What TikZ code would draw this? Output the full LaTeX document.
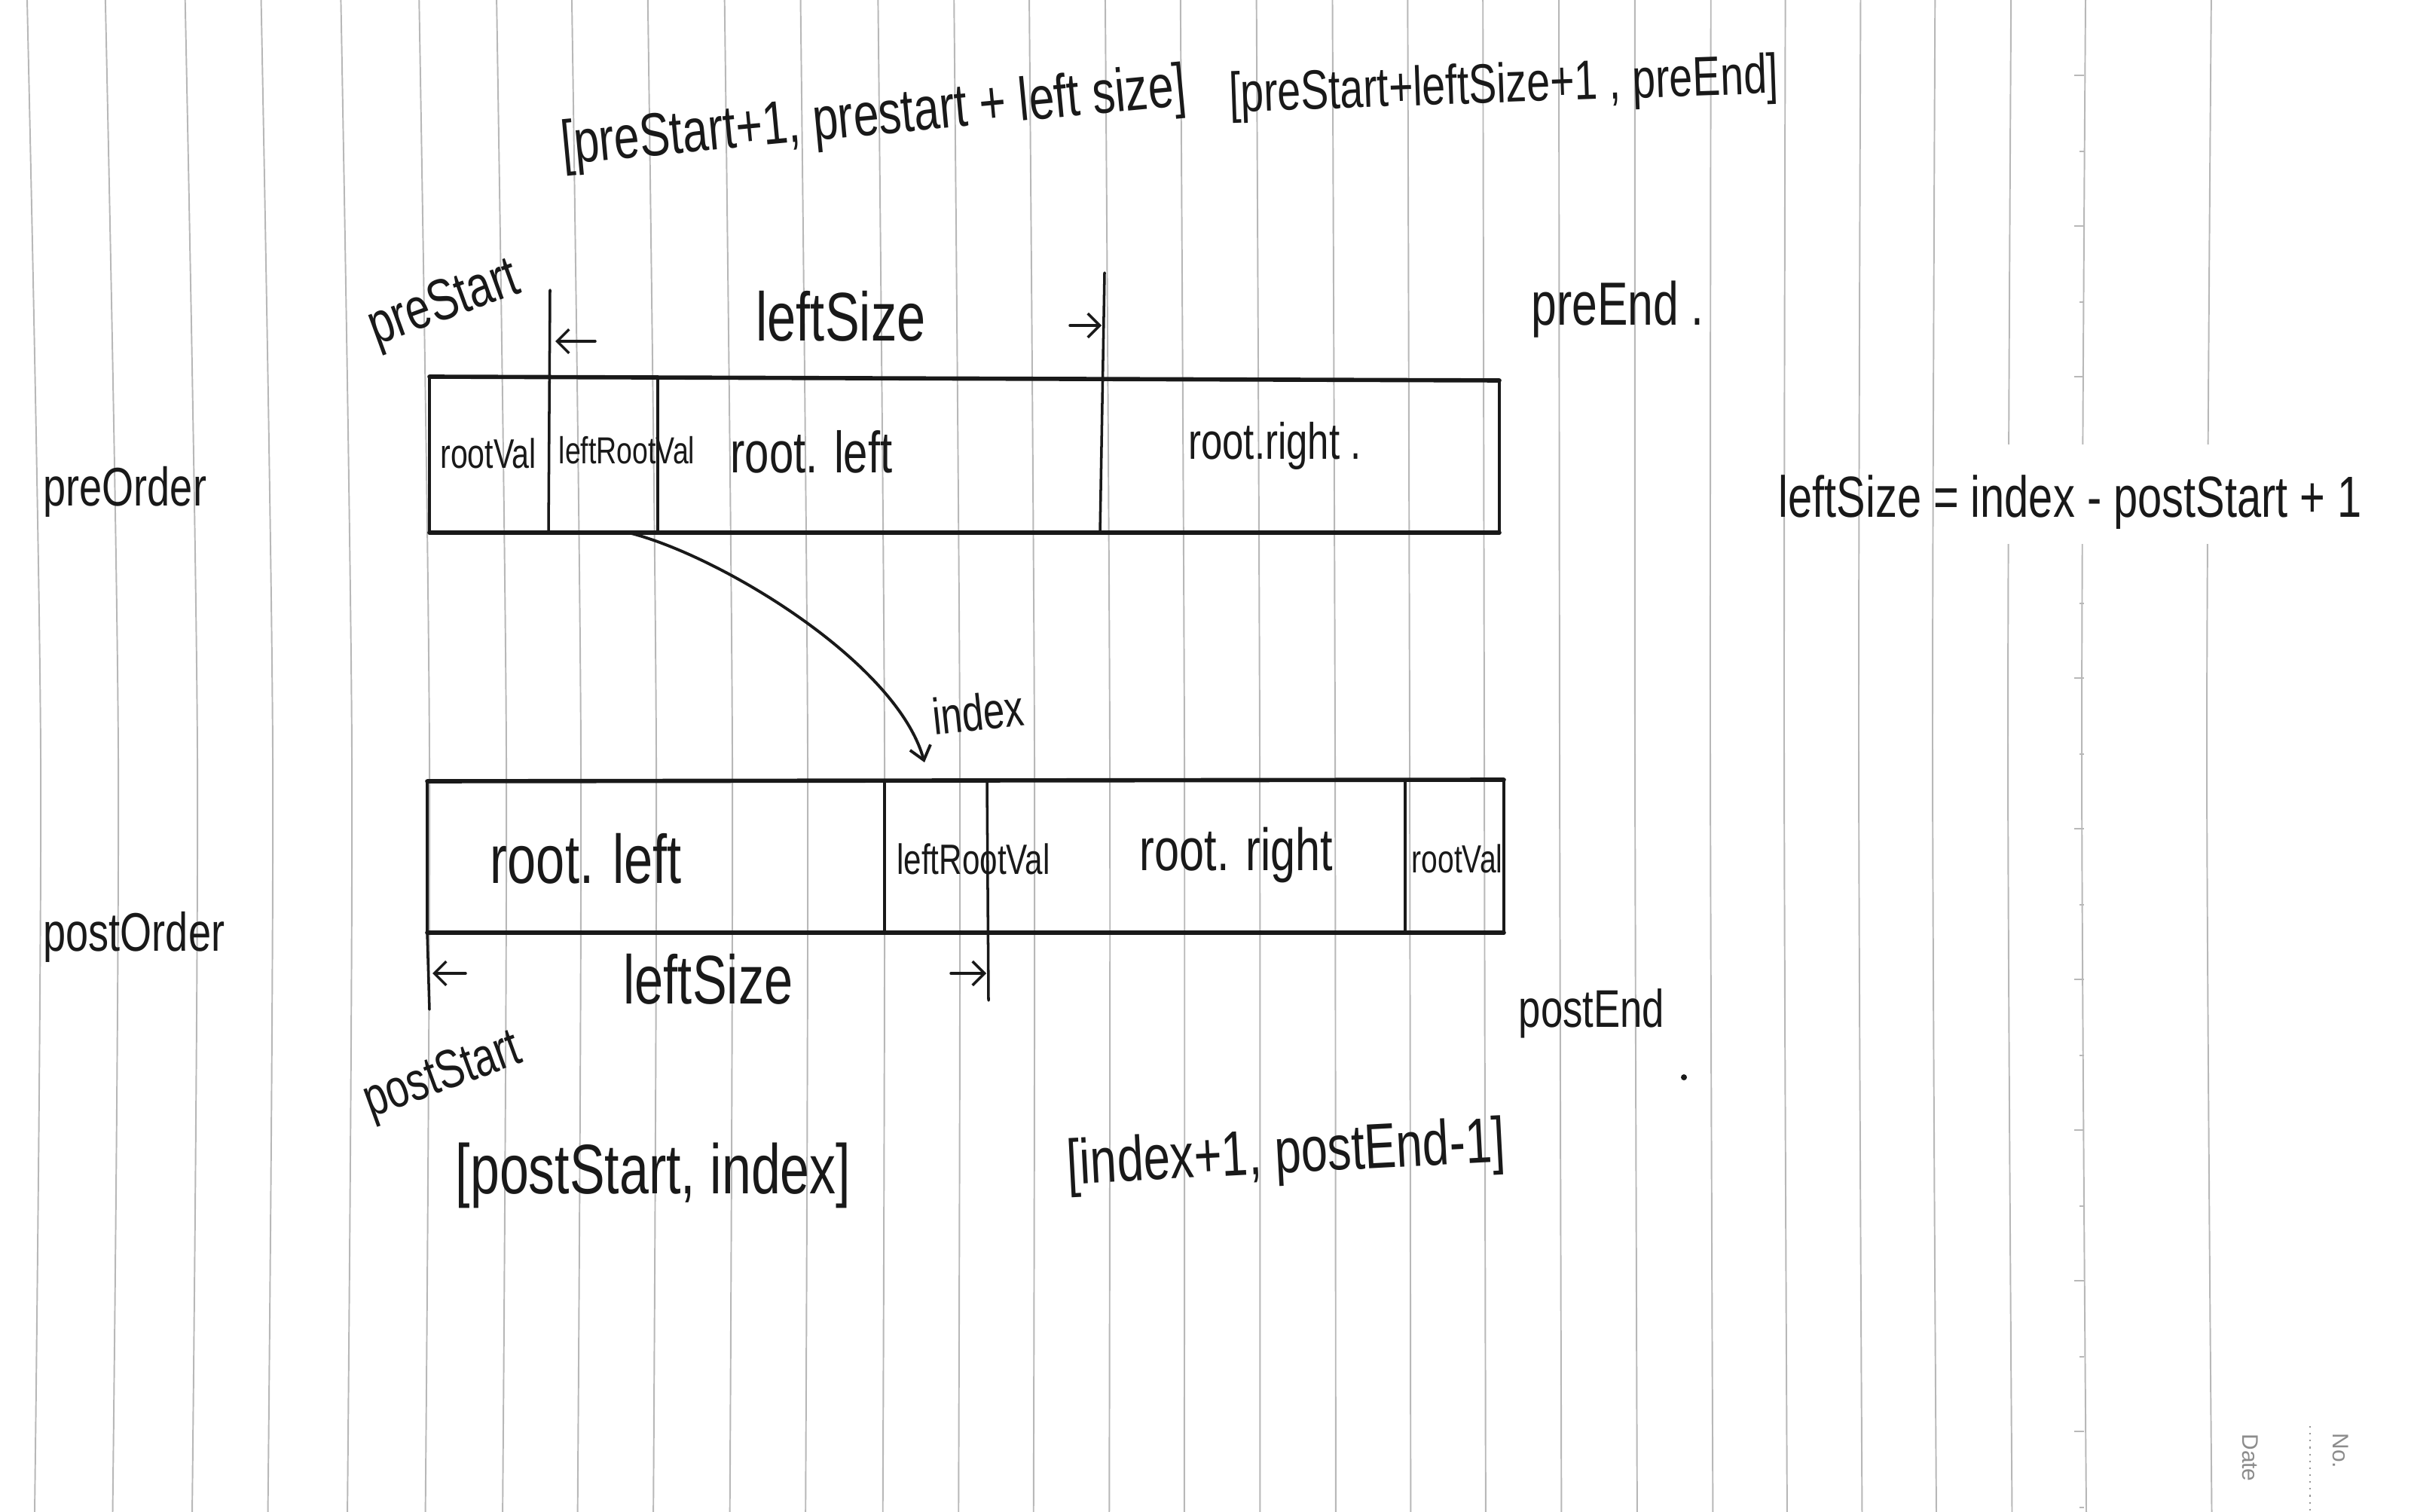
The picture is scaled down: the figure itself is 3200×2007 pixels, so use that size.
\documentclass[tikz,border=0pt]{standalone}
\usepackage{fontspec}
\setmainfont{Liberation Sans}
\newfontfamily\hand[FakeStretch=0.75]{Liberation Sans}
\newfontfamily\print{Liberation Sans}
\usetikzlibrary{arrows.meta}
\definecolor{inkc}{gray}{0.1}
\definecolor{rulec}{gray}{0.72}

\begin{document}
\begin{tikzpicture}[x=0.01cm,y=-0.01cm,
  rule/.style={draw=rulec, line width=0.55pt},
  ink/.style={draw=inkc, line width=1.0pt, line cap=round, line join=round},
  edgeh/.style={draw=inkc, line width=1.6pt, line cap=round},
  edgev/.style={draw=inkc, line width=1.0pt, line cap=round},
  hw/.style={text=inkc, inner sep=0pt, font=\hand\fontsize{#1}{#1}\selectfont},
  barb/.style={-{Straight Barb[length=4.5pt,width=9pt]}},
  printed/.style={text=black!45, inner sep=0pt, rotate=-90, font=\print\fontsize{8.5}{8.5}\selectfont}
]
% page
\useasboundingbox (0,0) rectangle (3200,2007);
\fill[white] (0,0) rectangle (3200,2007);

% ruled paper
\foreach \xm [count=\k from 0] in {54,157,262,362,467,570,672,771,871,972,1072,1174,1274,1373,1473,1572,1672,1772,1871,1970,2070,2170,2270,2368,2467,2565,2665,2763,2929} {
  \pgfmathsetmacro\xt{\xm - 18 + 23*\k/27}
  \pgfmathsetmacro\xb{\xm - 8 + 14*\k/27}
  \draw[rule] plot[smooth] coordinates {(\xt,0) (\xm,1000) (\xb,2007)};
}
\foreach \j in {0,...,9} {
  \pgfmathsetmacro\yl{100+200*\j}
  \pgfmathsetmacro\ys{201+200*\j}
  \draw[rule] (2753,\yl) -- (2766,\yl);
  \draw[rule] (2760,\ys) -- (2766,\ys);
}
% correction patch under the formula
\fill[white] (2658,590) rectangle (3178,722);

% printed corner fields
\node[printed] (date) at (2987,1935) {Date};
\node[printed] (num) at (3107,1926) {No.};
\coordinate (dotTop) at (3066,1893);
\coordinate (dotBot) at (3066,2007);
\draw[black!40, line width=0.6pt, dotted] (dotTop) -- (dotBot);

% ---------- preorder array ----------
\coordinate (preNW) at (570,500);
\coordinate (preNE) at (1990,505);
\coordinate (preSW) at (570,707);
\coordinate (preSE) at (1990,707);
\draw[edgeh] (preNW) -- (preNE);
\draw[edgeh] (preSW) -- (preSE);
\draw[edgev] (preNW) -- (preSW);
\draw[edgev] (preNE) -- (preSE);
\coordinate (preTickA) at (730,385);
\coordinate (preDivA) at (728,707);
\coordinate (preDivB1) at (873,503);
\coordinate (preDivB2) at (873,704);
\coordinate (preTickC) at (1466,362);
\coordinate (preDivC) at (1460,707);
\draw[edgev] (preTickA) -- (preDivA);
\draw[edgev] (preDivB1) -- (preDivB2);
\draw[edgev] (preTickC) -- (preDivC);

\node[hw=15.6pt] (preRoot) at (648,602) {rootVal};
\node[hw=14.2pt] (preLeftRoot) at (832,598) {leftRootVal};
\node[hw=22pt] (preLeft) at (1077,600) {root. left};
\node[hw=19.3pt] (preRight) at (1692,592) {root.right .};

\node[hw=22pt, rotate=20] (preStart) at (590,405) {preStart};
\node[hw=26pt] (preSize) at (1116,420) {leftSize};
\node[hw=23pt, anchor=base west] (preEnd) at (2032,432) {preEnd\hspace{0.2em}.};
\node[hw=20.5pt, anchor=base west] (preLbl) at (57,672) {preOrder};

\coordinate (pa1) at (790,453);
\coordinate (pa2) at (737,453);
\coordinate (pb1) at (1420,432);
\coordinate (pb2) at (1462,432);
\draw[ink, barb] (pa1) -- (pa2);
\draw[ink, barb] (pb1) -- (pb2);

\node[hw=23pt, rotate=5.4] (rangeL) at (1160,158) {[preStart+1, prestart + left size]};
\node[hw=21pt, rotate=2] (rangeR) at (1996,117) {[preStart+leftSize+1 , preEnd]};

% ---------- postorder array ----------
\coordinate (postNW) at (567,1037);
\coordinate (postNE) at (1996,1035);
\coordinate (postSW) at (567,1238);
\coordinate (postSE) at (1996,1238);
\draw[edgeh] (postNW) -- (postNE);
\draw[edgeh] (postSW) -- (postSE);
\draw[edgev] (postNW) -- (postSW);
\draw[edgev] (postNE) -- (postSE);
\coordinate (postTickA) at (570,1340);
\coordinate (postDivB1) at (1174,1037);
\coordinate (postDivB2) at (1174,1238);
\coordinate (postDivC1) at (1310,1037);
\coordinate (postTickC) at (1312,1328);
\coordinate (postDivD1) at (1865,1037);
\coordinate (postDivD2) at (1865,1238);
\draw[edgev] (postSW) -- (postTickA);
\draw[edgev] (postDivB1) -- (postDivB2);
\draw[edgev] (postDivC1) -- (postTickC);
\draw[edgev] (postDivD1) -- (postDivD2);

\node[hw=26pt] (postLeft) at (778,1140) {root. left};
\node[hw=16pt] (postLeftRoot) at (1292,1140) {leftRootVal};
\node[hw=22.5pt] (postRight) at (1641,1135) {root. right};
\node[hw=14.8pt] (postRoot) at (1934,1140) {rootVal};

\node[hw=26pt] (postSize) at (940,1300) {leftSize};
\node[hw=20.5pt, rotate=20] (postStart) at (588,1430) {postStart};
\node[hw=20pt, anchor=base west] (postEnd) at (2015,1363) {postEnd};
\fill[inkc] (2235,1430) circle (4);
\node[hw=20.5pt, anchor=base west] (postLbl) at (57,1262) {postOrder};

\coordinate (qa1) at (618,1292);
\coordinate (qa2) at (574,1292);
\coordinate (qb1) at (1262,1292);
\coordinate (qb2) at (1309,1292);
\draw[ink, barb] (qa1) -- (qa2);
\draw[ink, barb] (qb1) -- (qb2);

\node[hw=26.5pt] (rangeP) at (867,1560) {[postStart, index]};
\node[hw=24pt, rotate=3] (rangeQ) at (1707,1535) {[index+1, postEnd-1]};

% ---------- mapping from preorder to postorder ----------
\coordinate (mapFrom) at (838,708);
\coordinate (mapTo) at (1227,1012);
\draw[ink, line width=1.1pt, -{Straight Barb[length=5pt,width=8pt]}]
  (mapFrom) .. controls (960,740) and (1190,880) .. (mapTo);
\node[hw=19.3pt, rotate=6] (idx) at (1298,945) {index};

% ---------- size formula ----------
\node[hw=21.9pt, anchor=base west] (formula) at (2360,687) {leftSize = index - postStart + 1};
\end{tikzpicture}
\end{document}
